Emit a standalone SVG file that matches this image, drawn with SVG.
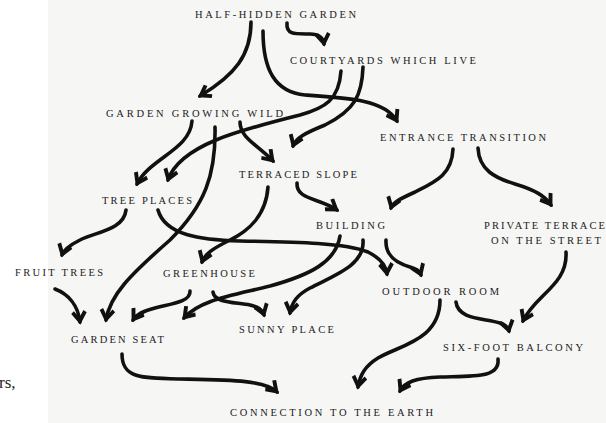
<svg xmlns="http://www.w3.org/2000/svg" width="606" height="423" viewBox="0 0 606 423">
<style>
.lbl{font-family:"Liberation Serif","Times New Roman",serif;font-size:10.5px;fill:#222;}
.big{font-family:"Liberation Serif","Times New Roman",serif;font-size:17px;fill:#222;}
.c{fill:none;stroke:#111;stroke-width:3.6;stroke-linecap:round;stroke-linejoin:round;}
</style>
<defs>
<marker id="ah" markerUnits="userSpaceOnUse" viewBox="-14 -10 17 20" refX="0" refY="0" markerWidth="17" markerHeight="20" orient="auto">
<path d="M2.5,0 L-9,-7.8 L-11.5,-4.8 L-4.5,0 L-11.5,4.8 L-9,7.8 Z" fill="#111"/>
<path d="M2.5,0 L-5,-3 L-5,3 Z" fill="#111"/>
</marker>
</defs>
<rect x="0" y="0" width="606" height="423" fill="#ffffff"/>
<rect x="48" y="0" width="558" height="423" fill="#f6f6f5"/>
<text class="big" x="-1" y="388">rs,</text>
<g id="connectors" class="c" marker-end="url(#ah)">
<path d="M251,22 C251,55 235,75 200,96"/>
<path d="M263,31 C263,70 275,92 305,95 C350,98 385,100 397,121"/>
<path d="M287,23 C286,35 295,34 310,34 C318,34 323,37 324,44"/>
<path d="M341,71 C339,100 325,108 300,115 C240,130 180,145 168,180"/>
<path d="M363,67 C362,95 355,110 325,125 C305,133 296,138 293,146"/>
<path d="M192,121 C190,150 150,158 137,184"/>
<path d="M215,127 C216,175 205,205 170,240 C130,275 110,295 106,320"/>
<path d="M240,122 C240,138 258,145 273,161"/>
<path d="M453,149 C452,175 435,182 415,192 C400,199 393,202 391,208"/>
<path d="M478,148 C479,170 495,178 515,184 C535,190 545,196 551,205"/>
<path d="M297,183 C296,200 320,198 337,210"/>
<path d="M268,187 C266,215 250,230 230,240 C212,249 205,254 202,262"/>
<path d="M126,210 C124,230 95,232 80,240 C70,245 64,249 62,255"/>
<path d="M158,210 C165,235 200,240 240,241 C300,242 345,243 368,252 C380,258 386,265 387,274"/>
<path d="M55,289 C68,294 78,305 80,322"/>
<path d="M190,291 C191,302 170,304 155,308 C143,311 137,314 133,320"/>
<path d="M213,292 C214,303 235,302 250,305 C258,307 262,309 264,315"/>
<path d="M340,236 C336,262 310,275 270,286 C230,296 200,300 184,318"/>
<path d="M363,240 C365,265 335,275 310,288 C297,295 292,302 290,313"/>
<path d="M386,240 C385,258 400,264 410,267 C416,269 419,270 421,275"/>
<path d="M566,252 C568,285 535,295 523,321"/>
<path d="M456,302 C458,320 485,318 500,323 C506,325 508,327 509,331"/>
<path d="M440,300 C440,340 400,345 378,358 C365,366 360,375 358,387"/>
<path d="M498,359 C500,378 475,376 440,377 C415,378 405,382 400,391"/>
<path d="M122,354 C122,378 140,378 180,379 C230,380 265,380 277,392"/>
</g>
<g id="n-half-hidden-garden"><text class="lbl" x="195" y="18" textLength="161" lengthAdjust="spacing">HALF-HIDDEN GARDEN</text></g>
<g id="n-courtyards"><text class="lbl" x="290" y="64" textLength="186" lengthAdjust="spacing">COURTYARDS WHICH LIVE</text></g>
<g id="n-garden-growing-wild"><text class="lbl" x="106" y="117" textLength="177" lengthAdjust="spacing">GARDEN GROWING WILD</text></g>
<g id="n-entrance-transition"><text class="lbl" x="380" y="141" textLength="166" lengthAdjust="spacing">ENTRANCE TRANSITION</text></g>
<g id="n-terraced-slope"><text class="lbl" x="239" y="178" textLength="118" lengthAdjust="spacing">TERRACED SLOPE</text></g>
<g id="n-tree-places"><text class="lbl" x="102" y="204" textLength="90" lengthAdjust="spacing">TREE PLACES</text></g>
<g id="n-building"><text class="lbl" x="316" y="229" textLength="69" lengthAdjust="spacing">BUILDING</text></g>
<g id="n-private-terrace"><text class="lbl" x="484" y="229" textLength="121" lengthAdjust="spacing">PRIVATE TERRACE</text><text class="lbl" x="491" y="244" textLength="110" lengthAdjust="spacing">ON THE STREET</text></g>
<g id="n-fruit-trees"><text class="lbl" x="15" y="276" textLength="88" lengthAdjust="spacing">FRUIT TREES</text></g>
<g id="n-greenhouse"><text class="lbl" x="163" y="277" textLength="92" lengthAdjust="spacing">GREENHOUSE</text></g>
<g id="n-outdoor-room"><text class="lbl" x="382" y="295" textLength="117" lengthAdjust="spacing">OUTDOOR ROOM</text></g>
<g id="n-sunny-place"><text class="lbl" x="239" y="333" textLength="95" lengthAdjust="spacing">SUNNY PLACE</text></g>
<g id="n-garden-seat"><text class="lbl" x="71" y="343" textLength="93" lengthAdjust="spacing">GARDEN SEAT</text></g>
<g id="n-six-foot-balcony"><text class="lbl" x="443" y="351" textLength="140" lengthAdjust="spacing">SIX-FOOT BALCONY</text></g>
<g id="n-connection"><text class="lbl" x="230" y="416" textLength="203" lengthAdjust="spacing">CONNECTION TO THE EARTH</text></g>
</svg>
